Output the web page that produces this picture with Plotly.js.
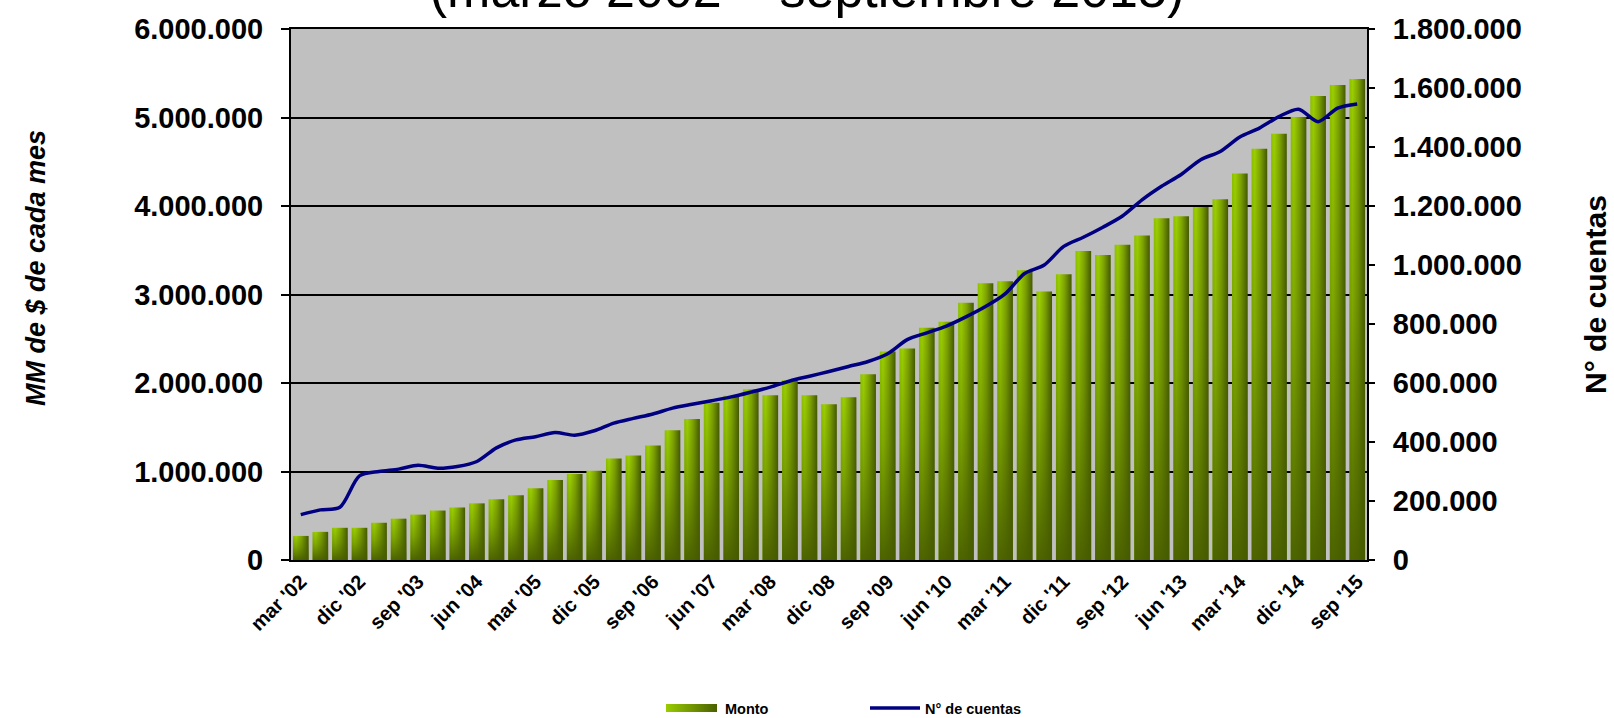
<!DOCTYPE html>
<html>
<head>
<meta charset="utf-8">
<script src="https://cdn.plot.ly/plotly-3.0.1.min.js"></script>
<style>
html,body{margin:0;padding:0;background:#ffffff;}
#chart{width:1614px;height:718px;}
</style>
</head>
<body>
<div id="chart"></div>
<script>
const categories = [
  "mar '02","jun '02","sep '02","dic '02",
  "mar '03","jun '03","sep '03","dic '03",
  "mar '04","jun '04","sep '04","dic '04",
  "mar '05","jun '05","sep '05","dic '05",
  "mar '06","jun '06","sep '06","dic '06",
  "mar '07","jun '07","sep '07","dic '07",
  "mar '08","jun '08","sep '08","dic '08",
  "mar '09","jun '09","sep '09","dic '09",
  "mar '10","jun '10","sep '10","dic '10",
  "mar '11","jun '11","sep '11","dic '11",
  "mar '12","jun '12","sep '12","dic '12",
  "mar '13","jun '13","sep '13","dic '13",
  "mar '14","jun '14","sep '14","dic '14",
  "mar '15","jun '15","sep '15"
];

// Monto (MM de $ de cada mes)
const monto = [
  272000, 318000, 364000, 364000,
  421000, 467000, 513000, 559000,
  594000, 640000, 686000, 732000,
  812000, 904000, 973000, 1008000,
  1146000, 1180000, 1295000, 1467000,
  1594000, 1778000, 1857000, 1929000,
  1861000, 2030000, 1861000, 1760000,
  1838000, 2098000, 2357000, 2391000,
  2625000, 2693000, 2908000, 3126000,
  3149000, 3275000, 3034000, 3229000,
  3492000, 3447000, 3561000, 3667000,
  3861000, 3884000, 3989000, 4075000,
  4367000, 4648000, 4816000, 5007000,
  5243000, 5367000, 5434000
];

// N° de cuentas
const cuentas = [
  154000, 170000, 179000, 285000,
  300000, 308000, 321000, 311000,
  317000, 334000, 380000, 407000,
  418000, 432000, 423000, 438000,
  464000, 480000, 495000, 515000,
  528000, 540000, 553000, 569000,
  586000, 607000, 623000, 639000,
  656000, 673000, 699000, 747000,
  770000, 793000, 824000, 859000,
  902000, 971000, 1000000, 1063000,
  1094000, 1128000, 1166000, 1221000,
  1267000, 1307000, 1357000, 1385000,
  1434000, 1464000, 1503000, 1528000,
  1486000, 1532000, 1546000
];

const tickLabels = [
  "mar '02","dic '02","sep '03","jun '04","mar '05","dic '05","sep '06",
  "jun '07","mar '08","dic '08","sep '09","jun '10","mar '11","dic '11",
  "sep '12","jun '13","mar '14","dic '14","sep '15"
];

const seriesNames = ["Monto", "N° de cuentas"];
const titleText = "(marzo 2002 – septiembre 2015)";
const leftTitle = "MM de $ de cada mes";
const rightTitle = "N° de cuentas";

const FONT = '"Liberation Sans", Arial, Helvetica, sans-serif';

const traces = [
  {
    type: 'bar',
    name: seriesNames[0],
    x: categories,
    y: monto,
    yaxis: 'y',
    marker: {color: '#7a9e00', line: {width: 0}},
    hoverinfo: 'skip'
  },
  {
    type: 'scatter',
    mode: 'lines',
    name: seriesNames[1],
    x: categories,
    y: cuentas,
    yaxis: 'y2',
    line: {color: '#000080', width: 3.5, shape: 'spline', smoothing: 0.8},
    hoverinfo: 'skip'
  }
];

const layout = {
  width: 1614,
  height: 718,
  margin: {l: 291, r: 247, t: 29, b: 158},
  paper_bgcolor: '#ffffff',
  plot_bgcolor: '#c0c0c0',
  separators: ',.',
  font: {family: FONT, color: '#000000'},
  title: {
    text: titleText,
    font: {family: FONT, size: 52, color: '#000000'},
    xref: 'container', x: 0.5, xanchor: 'center',
    yref: 'container', y: 1 - 6.5 / 718, yanchor: 'bottom',
    pad: {t: 0, b: 0, l: 0, r: 0}
  },
  bargap: 0.2,
  showlegend: true,
  legend: {
    orientation: 'h',
    xref: 'container', x: 665 / 1614, xanchor: 'left',
    yref: 'container', y: 10 / 718, yanchor: 'middle',
    font: {family: FONT, size: 14.5, weight: 'bold', color: '#000'},
    itemwidth: 50,
    entrywidth: 135, entrywidthmode: 'pixels',
    traceorder: 'normal',
    bgcolor: 'rgba(0,0,0,0)'
  },
  annotations: [
    {
      text: leftTitle,
      xref: 'paper', yref: 'paper',
      x: (36 - 291) / 1076, y: (560 - 268) / 531,
      xanchor: 'center', yanchor: 'middle',
      textangle: -90,
      showarrow: false,
      font: {family: FONT, size: 27, weight: 'bold', style: 'italic', color: '#000'}
    }
  ],
  xaxis: {
    type: 'category',
    categoryorder: 'array',
    categoryarray: categories,
    tickmode: 'array',
    tickvals: tickLabels,
    ticktext: tickLabels,
    tickangle: -45,
    tickfont: {family: FONT, size: 20, weight: 'bold', color: '#000'},
    showline: true, linecolor: '#000', linewidth: 2, mirror: true,
    ticks: '', showgrid: false, zeroline: false,
    automargin: false
  },
  yaxis: {
    range: [0, 6000000],
    dtick: 1000000,
    tick0: 0,
    tickformat: ',d',
    tickfont: {family: FONT, size: 29, weight: 'bold', color: '#000'},
    ticklabelstandoff: 12,
    showgrid: true, gridcolor: '#000', gridwidth: 2,
    showline: true, linecolor: '#000', linewidth: 2, mirror: true,
    ticks: 'outside', ticklen: 8, tickwidth: 2, tickcolor: '#000',
    zeroline: false,
    automargin: false
  },
  yaxis2: {
    overlaying: 'y',
    side: 'right',
    range: [0, 1800000],
    dtick: 200000,
    tick0: 0,
    tickformat: ',d',
    tickfont: {family: FONT, size: 29, weight: 'bold', color: '#000'},
    ticklabelstandoff: 12,
    showgrid: false,
    showline: true, linecolor: '#000', linewidth: 2,
    ticks: 'outside', ticklen: 6, tickwidth: 2, tickcolor: '#000',
    zeroline: false,
    automargin: false,
    title: {
      text: rightTitle,
      font: {family: FONT, size: 30, weight: 'bold', color: '#000'},
      standoff: 64
    }
  }
};

function addGradient(defs, id, vertical, stops) {
  const ns = 'http://www.w3.org/2000/svg';
  const g = document.createElementNS(ns, 'linearGradient');
  g.setAttribute('id', id);
  g.setAttribute('x1', '0'); g.setAttribute('y1', '0');
  g.setAttribute('x2', vertical ? '0' : '1'); g.setAttribute('y2', vertical ? '1' : '0');
  stops.forEach(s => {
    const st = document.createElementNS(ns, 'stop');
    st.setAttribute('offset', s[0]);
    st.setAttribute('stop-color', s[1]);
    st.setAttribute('stop-opacity', s[2] === undefined ? 1 : s[2]);
    g.appendChild(st);
  });
  defs.appendChild(g);
}

function decorate(gd) {
  const ns = 'http://www.w3.org/2000/svg';
  const svg = gd.querySelector('svg.main-svg');
  let defs = svg.querySelector('defs');
  if (!defs) { defs = document.createElementNS(ns, 'defs'); svg.insertBefore(defs, svg.firstChild); }
  addGradient(defs, 'barGradH', false, [
    ['0', '#8cbf00'], ['0.2', '#9ccf00'], ['0.55', '#7ea400'], ['1', '#435800']
  ]);
  addGradient(defs, 'barGradV', true, [
    ['0', '#4a6000', 0], ['0.45', '#4a6000', 0.35], ['1', '#465a00', 0.92]
  ]);
  addGradient(defs, 'legGradH', false, [
    ['0', '#99cc00'], ['1', '#4a6000']
  ]);
  gd.querySelectorAll('.barlayer .point path').forEach(p => {
    p.style.fill = 'url(#barGradH)';
    const c = p.cloneNode(true);
    c.style.fill = 'url(#barGradV)';
    c.style.stroke = 'none';
    p.parentNode.appendChild(c);
  });
  const items = gd.querySelectorAll('.legend .traces');
  items.forEach((it, i) => {
    const paths = it.querySelectorAll('.legendpoints path');
    paths.forEach(p => {
      if (i === 0) {
        p.removeAttribute('transform');
        p.setAttribute('d', 'M1,-4H52V4H1Z');
        p.style.fill = 'url(#legGradH)';
        p.style.stroke = 'none';
      } else {
        if (p.classList.contains('js-line')) {
          p.setAttribute('d', 'M3,0h49');
        }
      }
    });
  });
}

Plotly.newPlot('chart', traces, layout, {staticPlot: true, displayModeBar: false})
  .then(gd => decorate(gd));
</script>
</body>
</html>
